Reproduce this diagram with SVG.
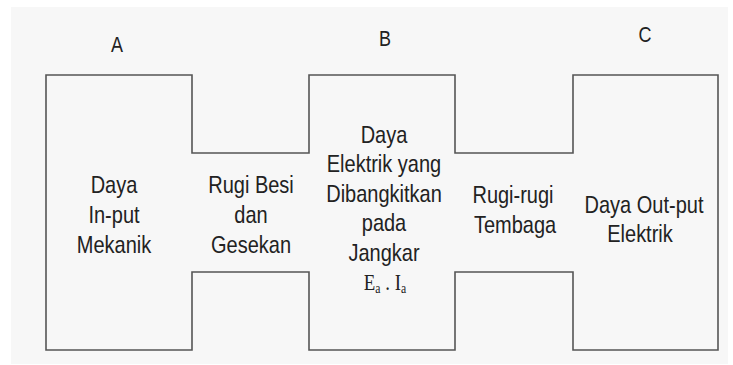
<svg xmlns="http://www.w3.org/2000/svg" width="733" height="365" viewBox="0 0 733 365">
<style>
.t{font-family:"Liberation Sans",Arial,sans-serif;font-size:20px;fill:#222;text-anchor:middle}
.l{font-family:"Liberation Sans",Arial,sans-serif;font-size:18px;fill:#222;text-anchor:middle}
.m{font-family:"Liberation Serif","Times New Roman",serif;font-size:21px;fill:#222;text-anchor:middle}
.s{font-size:13px}
.outline{fill:none;stroke:#555;stroke-width:1.6}
</style>
<rect x="0" y="0" width="733" height="365" fill="#ffffff"/>
<rect x="11" y="7" width="717" height="357" fill="#f7f7f7"/>
<g id="connectors">
<path class="outline" d="M46,75 H192 V153 H309 V75 H455 V153 H573 V75 H718 V350 H573 V272 H455 V350 H309 V272 H192 V350 H46 Z"/>
</g>
<g id="nodeA">
<text class="l" transform="translate(117,52) scale(1,1.2)">A</text>
<text class="t" transform="translate(114,193) scale(1,1.22)">Daya</text>
<text class="t" transform="translate(114,223) scale(1,1.22)">In-put</text>
<text class="t" transform="translate(114,253) scale(1,1.22)">Mekanik</text>
</g>
<g id="nodeRugiBesi">
<text class="t" transform="translate(251,193) scale(1,1.22)">Rugi Besi</text>
<text class="t" transform="translate(251,223) scale(1,1.22)">dan</text>
<text class="t" transform="translate(251,253) scale(1,1.22)">Gesekan</text>
</g>
<g id="nodeB">
<text class="l" transform="translate(385,46) scale(1,1.2)">B</text>
<text class="t" transform="translate(384,143) scale(1,1.22)">Daya</text>
<text class="t" transform="translate(384,172) scale(1,1.22)">Elektrik yang</text>
<text class="t" transform="translate(384,202) scale(1,1.22)">Dibangkitkan</text>
<text class="t" transform="translate(384,231) scale(1,1.22)">pada</text>
<text class="t" transform="translate(384,261) scale(1,1.22)">Jangkar</text>
<text class="m" transform="translate(385,290) scale(0.9,1.05)">E<tspan class="s" dy="3">a</tspan><tspan dy="-3"> . I</tspan><tspan class="s" dy="3">a</tspan></text>
</g>
<g id="nodeRugiRugi">
<text class="t" transform="translate(513,203) scale(1,1.22)">Rugi-rugi</text>
<text class="t" transform="translate(515,233) scale(1,1.22)">Tembaga</text>
</g>
<g id="nodeC">
<text class="l" transform="translate(645,42) scale(1,1.2)">C</text>
<text class="t" transform="translate(644,213) scale(1,1.22)">Daya Out-put</text>
<text class="t" transform="translate(640,242) scale(1,1.22)">Elektrik</text>
</g>
</svg>
